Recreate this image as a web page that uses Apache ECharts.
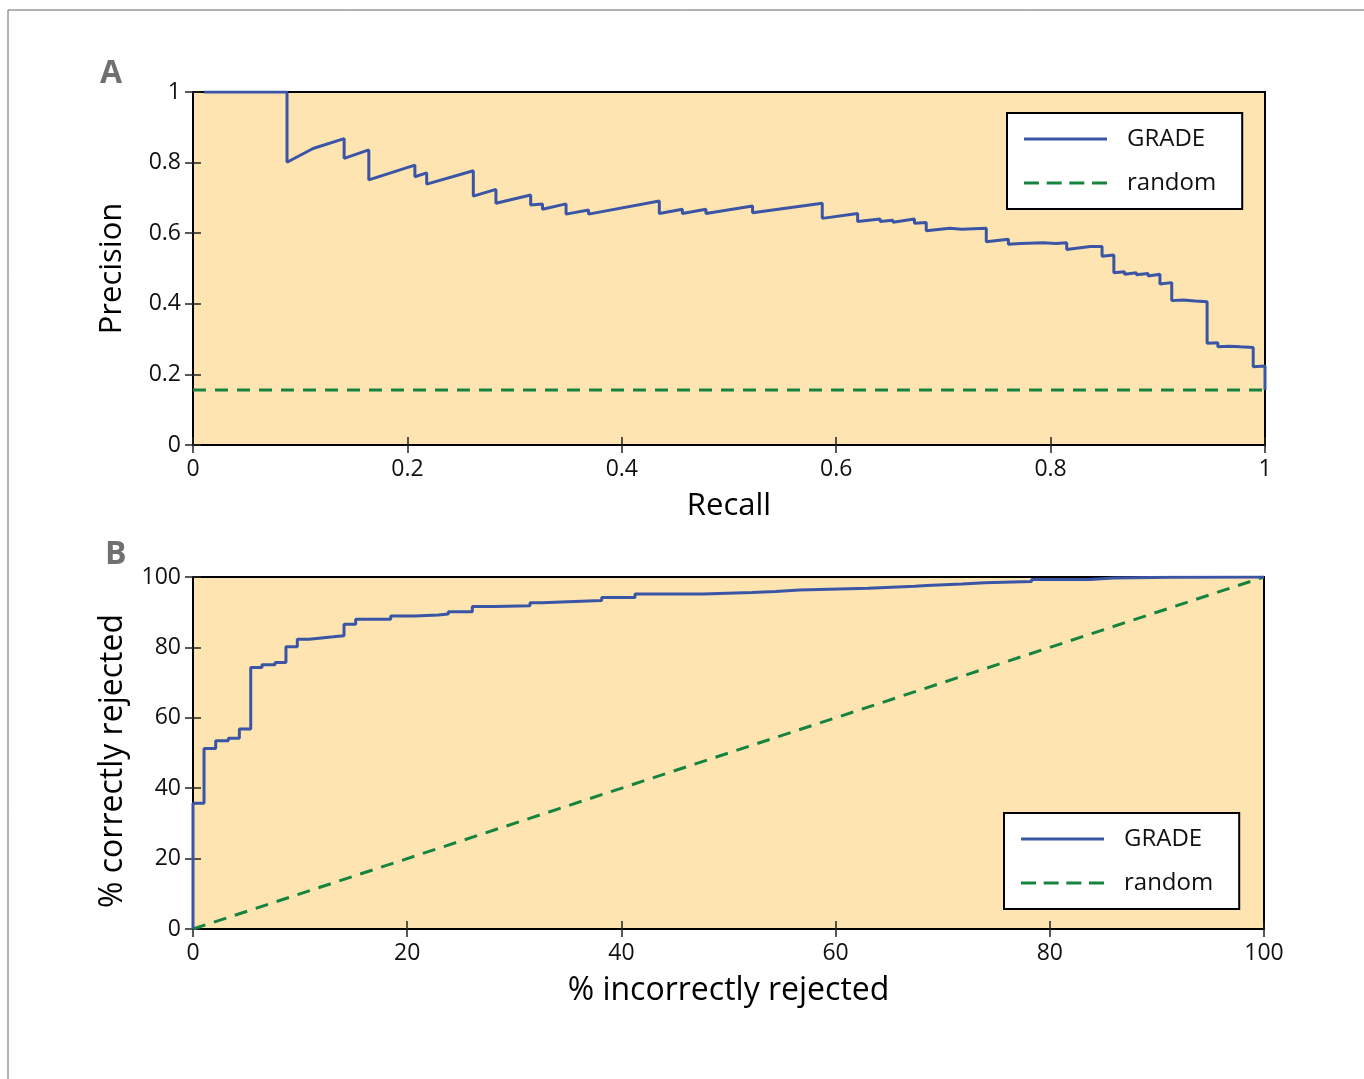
<!DOCTYPE html>
<html><head><meta charset="utf-8">
<script src="https://cdn.jsdelivr.net/npm/echarts@6/dist/echarts.min.js"></script>
<style>html,body{margin:0;padding:0;background:#fff}#c{width:1364px;height:1079px}</style>
</head><body><div id="c"></div><script>
// ---- Data ----
// Panel A: precision-recall curve (recall, precision) points
const prPoints = [
 [0.0103,1.0],[0.0877,1.0],[0.0877,0.801],[0.112,0.840],[0.141,0.868],[0.141,0.812],[0.164,0.836],[0.164,0.751],
 [0.207,0.793],[0.207,0.760],[0.218,0.771],[0.218,0.739],[0.2615,0.777],[0.2615,0.705],[0.2826,0.724],
 [0.2826,0.685],[0.315,0.708],[0.315,0.680],[0.326,0.683],[0.326,0.668],[0.348,0.683],[0.348,0.654],
 [0.369,0.666],[0.369,0.654],[0.435,0.691],[0.435,0.656],[0.4565,0.668],[0.4565,0.656],[0.4785,0.668],
 [0.4785,0.656],[0.522,0.677],[0.522,0.658],[0.587,0.685],[0.587,0.642],[0.620,0.656],[0.620,0.633],
 [0.641,0.640],[0.641,0.633],[0.653,0.637],[0.653,0.631],[0.673,0.640],[0.673,0.628],[0.684,0.630],
 [0.684,0.607],[0.706,0.614],[0.706,0.609],[0.717,0.611],[0.717,0.607],[0.740,0.614],[0.740,0.576],
 [0.7606,0.583],[0.7606,0.569],[0.772,0.571],[0.772,0.567],[0.793,0.573],[0.793,0.569],[0.805,0.571],
 [0.805,0.569],[0.815,0.573],[0.815,0.554],[0.837,0.562],[0.837,0.558],[0.848,0.562],[0.848,0.535],
 [0.859,0.538],[0.859,0.488],[0.869,0.491],[0.869,0.484],[0.880,0.488],[0.880,0.482],[0.891,0.486],
 [0.891,0.479],[0.902,0.484],[0.902,0.456],[0.913,0.460],[0.913,0.409],[0.9235,0.411],[0.9235,0.406],
 [0.935,0.408],[0.935,0.404],[0.946,0.406],[0.946,0.288],[0.956,0.290],[0.956,0.278],[0.967,0.280],
 [0.967,0.278],[0.977,0.278],[0.977,0.275],[0.989,0.276],[0.989,0.222],[1.0,0.224],[1.0,0.156]
];
const prRandom = [[0, 0.156], [1, 0.156]];

// Panel B: step curve, % incorrectly rejected (x) vs % correctly rejected (y)
const rocFpr = [0, 0, 1.03, 2.12, 3.30, 4.33, 5.39, 6.44, 7.66, 8.68, 9.74, 10.83, 12.0, 13.1, 14.1, 15.19,
 18.46, 20.7, 22.9, 23.84, 26.08, 28.2, 31.47, 32.56, 35.0, 38.16, 41.27, 47.6, 52.2, 54.4, 56.6, 63.05,
 65.2, 67.4, 68.5, 71.8, 73.9, 78.3, 83.75, 85.9, 91.4, 100];
const rocTpr = [0, 35.7, 51.3, 53.5, 54.2, 56.8, 74.3, 75.1, 75.7, 80.2, 82.3, 82.7, 83.0, 83.3, 86.6, 88.0,
 88.9, 89.2, 89.5, 90.1, 91.6, 91.85, 92.7, 93.0, 93.3, 94.2, 95.2, 95.6, 95.9, 96.3, 96.8, 97.1,
 97.4, 97.6, 98.0, 98.4, 98.7, 99.3, 99.7, 99.9, 100, 100];
const rocRandom = [[0, 0], [100, 100]];

const legendNames = ['GRADE', 'random'];
const panelLabels = ['A', 'B'];
const axisTitles = { ax: 'Recall', ay: 'Precision', bx: '% incorrectly rejected', by: '% correctly rejected' };

// ---- Styles ----
const FONT = '"Open Sans", "Noto Sans", sans-serif';
const BLUE = '#3b55a6';
const GREEN = '#16843f';
const BG = '#fde4b0';
const LW = 3;
// legend glyphs: a solid stroke and a dashed stroke (83 x 3)
const ICON_SOLID = 'path://M0,0H83V3H0Z';
const ICON_DASHED = 'path://M0,0H15V3H0Z M22.7,0H37.7V3H22.7Z M45.3,0H60.3V3H45.3Z M68,0H83V3H68Z';

const tick = { inside: true, length: 8, lineStyle: { color: '#222', width: 1.5 } };
function mkAxis(gridIndex, pos, min, max, interval, name, nameGap, nameSize, namePad) {
  const isMain = pos === 'bottom' || pos === 'left';
  const a = {
    gridIndex, type: 'value', position: pos, min, max, interval,
    axisLine: { show: false }, axisTick: tick, splitLine: { show: false },
    axisLabel: isMain ? { fontSize: 23, color: '#111', margin: pos === 'bottom' ? 13 : 12, fontFamily: FONT } : { show: false }
  };
  if (isMain && name) {
    a.name = name; a.nameLocation = 'middle'; a.nameGap = nameGap;
    a.nameTextStyle = { fontSize: nameSize, color: '#000', fontFamily: FONT, padding: namePad || 0 };
    if (pos === 'left') a.nameRotate = 90;
  }
  return a;
}

const legendCommon = {
  orient: 'vertical', itemWidth: 83, itemHeight: 3, itemGap: 20,
  backgroundColor: '#fff', borderColor: '#000', borderWidth: 2,
  padding: [14, 26, 14, 17], borderRadius: 0,
  textStyle: { fontSize: 24, color: '#111', fontFamily: FONT, padding: [0, 0, 0, 15] },
  data: [
    { name: legendNames[0], icon: ICON_SOLID },
    { name: legendNames[1], icon: ICON_DASHED }
  ]
};

const option = {
  animation: false,
  backgroundColor: '#fff',
  title: [
    { text: panelLabels[0], left: 100, top: 58, padding: 0, textStyle: { fontSize: 32, fontWeight: 'bold', color: '#707070', fontFamily: FONT } },
    { text: panelLabels[1], left: 105, top: 539, padding: 0, textStyle: { fontSize: 32, fontWeight: 'bold', color: '#707070', fontFamily: FONT } }
  ],
  graphic: [
    { type: 'rect', silent: true, z: -10, shape: { x: 8, y: 10, width: 1420, height: 1200 }, style: { fill: 'none', stroke: '#666', lineWidth: 1 } }
  ],
  grid: [
    { left: 193, top: 92, width: 1072, height: 353, show: true, backgroundColor: BG, borderColor: '#000', borderWidth: 2 },
    { left: 193, top: 577, width: 1071, height: 352, show: true, backgroundColor: BG, borderColor: '#000', borderWidth: 2 }
  ],
  xAxis: [
    mkAxis(0, 'bottom', 0, 1, 0.2, axisTitles.ax, 46, 31),
    mkAxis(0, 'top', 0, 1, 0.2),
    mkAxis(1, 'bottom', 0, 100, 20, axisTitles.bx, 46, 32),
    mkAxis(1, 'top', 0, 100, 20)
  ],
  yAxis: [
    mkAxis(0, 'left', 0, 1, 0.2, axisTitles.ay, 65, 31),
    mkAxis(0, 'right', 0, 1, 0.2),
    mkAxis(1, 'left', 0, 100, 20, axisTitles.by, 64, 32, [0, 16, 0, 0]),
    mkAxis(1, 'right', 0, 100, 20)
  ],
  legend: [
    Object.assign({}, legendCommon, { left: 1007, top: 113 }),
    Object.assign({}, legendCommon, { left: 1004, top: 813 })
  ],
  series: [
    { name: legendNames[0], type: 'line', xAxisIndex: 0, yAxisIndex: 0, data: prPoints, symbol: 'none', showSymbol: false,
      lineStyle: { color: BLUE, width: LW }, itemStyle: { color: BLUE }, z: 3 },
    { name: legendNames[1], type: 'line', xAxisIndex: 0, yAxisIndex: 0, data: prRandom, symbol: 'none', showSymbol: false,
      lineStyle: { color: GREEN, width: LW, type: [13, 9] }, itemStyle: { color: GREEN }, z: 2 },
    { name: legendNames[0], type: 'line', xAxisIndex: 2, yAxisIndex: 2, step: 'end',
      data: rocFpr.map((x, i) => [x, rocTpr[i]]), symbol: 'none', showSymbol: false,
      lineStyle: { color: BLUE, width: LW }, itemStyle: { color: BLUE }, z: 3 },
    { name: legendNames[1], type: 'line', xAxisIndex: 2, yAxisIndex: 2, data: rocRandom, symbol: 'none', showSymbol: false,
      lineStyle: { color: GREEN, width: LW, type: [13, 9] }, itemStyle: { color: GREEN }, z: 2 }
  ]
};

const chart = echarts.init(document.getElementById('c'), null, { renderer: 'canvas' });
chart.setOption(option);
</script></body></html>
